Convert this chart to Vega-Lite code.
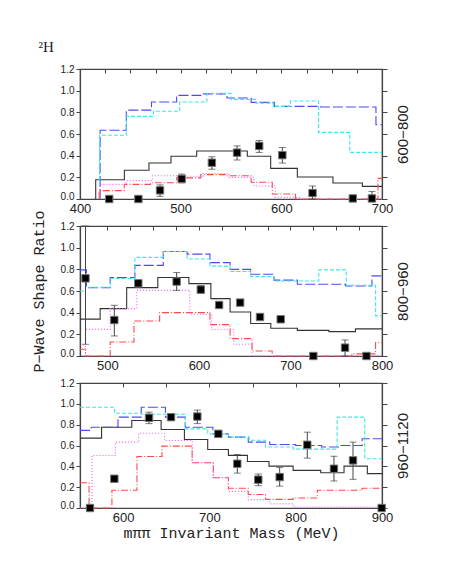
{
"$schema": "https://vega.github.io/schema/vega-lite/v6.json",
"background": "white",
"padding": {"left": 30, "top": 40, "right": 5, "bottom": 5},
"title": {"text": "²H", "anchor": "start", "frame": "bounds", "font": "Liberation Serif", "fontSize": 15, "fontWeight": "normal", "color": "#222", "dx": 8, "offset": 8},
"spacing": 27,
"bounds": "flush",
"config": {
  "view": {"stroke": "#444", "strokeWidth": 1.2},
  "axis": {"domainColor": "#444", "domainWidth": 1.2, "tickColor": "#444", "labelColor": "#222", "labelFont": "Liberation Sans", "titleFont": "Liberation Mono", "titleFontWeight": "normal", "titleColor": "#222", "grid": false},
  "line": {"strokeWidth": 1.1}
},
"datasets": {
  "h1": [
    {"s":"black","x":415.6,"y":0},{"s":"black","x":444.1,"y":0.178},{"s":"black","x":468.5,"y":0.265},{"s":"black","x":490.4,"y":0.332},{"s":"black","x":515.9,"y":0.394},{"s":"black","x":566.2,"y":0.443},{"s":"black","x":589.4,"y":0.394},{"s":"black","x":615.9,"y":0.283},{"s":"black","x":651.3,"y":0.203},{"s":"black","x":680.5,"y":0.148},{"s":"black","x":700,"y":0.117},
    {"s":"blue","x":420,"y":0},{"s":"blue","x":446,"y":0.634},{"s":"blue","x":471,"y":0.82},{"s":"blue","x":496,"y":0.895},{"s":"blue","x":520,"y":0.957},{"s":"blue","x":546,"y":0.97},{"s":"blue","x":570,"y":0.932},{"s":"blue","x":593,"y":0.892},{"s":"blue","x":639,"y":0.855},{"s":"blue","x":694,"y":0.849},{"s":"blue","x":700,"y":0.686},
    {"s":"cyan","x":419.5,"y":0},{"s":"cyan","x":446,"y":0.588},{"s":"cyan","x":473,"y":0.763},{"s":"cyan","x":499,"y":0.81},{"s":"cyan","x":526,"y":0.895},{"s":"cyan","x":550,"y":0.975},{"s":"cyan","x":575,"y":0.92},{"s":"cyan","x":592,"y":0.885},{"s":"cyan","x":609,"y":0.855},{"s":"cyan","x":637,"y":0.905},{"s":"cyan","x":668,"y":0.615},{"s":"cyan","x":700,"y":0.43},
    {"s":"red","x":419,"y":0},{"s":"red","x":444,"y":0.077},{"s":"red","x":470,"y":0.135},{"s":"red","x":496,"y":0.15},{"s":"red","x":520,"y":0.195},{"s":"red","x":546,"y":0.225},{"s":"red","x":570,"y":0.215},{"s":"red","x":591,"y":0.155},{"s":"red","x":614,"y":0.046},{"s":"red","x":696,"y":0},{"s":"red","x":700,"y":0.19},
    {"s":"magenta","x":420,"y":0},{"s":"magenta","x":446,"y":0.135},{"s":"magenta","x":472,"y":0.17},{"s":"magenta","x":497,"y":0.215},{"s":"magenta","x":522,"y":0.21},{"s":"magenta","x":548,"y":0.235},{"s":"magenta","x":573,"y":0.2},{"s":"magenta","x":594,"y":0.12},{"s":"magenta","x":618,"y":0.015},{"s":"magenta","x":700,"y":0}
  ],
  "h2": [
    {"s":"black","x":470,"y":0.34},{"s":"black","x":492,"y":0.34},{"s":"black","x":521,"y":0.437},{"s":"black","x":555,"y":0.631},{"s":"black","x":589,"y":0.724},{"s":"black","x":613,"y":0.668},{"s":"black","x":634,"y":0.53},{"s":"black","x":656.5,"y":0.406},{"s":"black","x":678.5,"y":0.3},{"s":"black","x":707.5,"y":0.256},{"s":"black","x":742,"y":0.237},{"s":"black","x":771,"y":0.225},{"s":"black","x":800,"y":0.25},
    {"s":"blue","x":470,"y":0.795},{"s":"blue","x":477,"y":0.795},{"s":"blue","x":503,"y":0.63},{"s":"blue","x":530,"y":0.724},{"s":"blue","x":561,"y":0.837},{"s":"blue","x":587,"y":0.964},{"s":"blue","x":612,"y":0.94},{"s":"blue","x":634,"y":0.862},{"s":"blue","x":656.5,"y":0.8},{"s":"blue","x":682,"y":0.754},{"s":"blue","x":707.5,"y":0.7},{"s":"blue","x":760,"y":0.662},{"s":"blue","x":789,"y":0.646},{"s":"blue","x":800,"y":0.74},
    {"s":"cyan","x":470,"y":0.6},{"s":"cyan","x":476,"y":0.6},{"s":"cyan","x":503,"y":0.635},{"s":"cyan","x":530,"y":0.715},{"s":"cyan","x":561,"y":0.91},{"s":"cyan","x":587,"y":0.965},{"s":"cyan","x":612,"y":0.895},{"s":"cyan","x":634,"y":0.83},{"s":"cyan","x":656.5,"y":0.78},{"s":"cyan","x":682,"y":0.733},{"s":"cyan","x":731,"y":0.693},{"s":"cyan","x":761,"y":0.795},{"s":"cyan","x":793,"y":0.652},{"s":"cyan","x":800,"y":0.37},
    {"s":"red","x":470,"y":0.062},{"s":"red","x":476,"y":0.062},{"s":"red","x":503,"y":0},{"s":"red","x":529,"y":0.129},{"s":"red","x":557,"y":0.323},{"s":"red","x":612,"y":0.4},{"s":"red","x":634,"y":0.29},{"s":"red","x":658,"y":0.16},{"s":"red","x":680,"y":0.046},{"s":"red","x":767,"y":0},{"s":"red","x":793,"y":0.02},{"s":"red","x":800,"y":0.124},
    {"s":"magenta","x":476,"y":0},{"s":"magenta","x":503,"y":0.246},{"s":"magenta","x":532,"y":0.437},{"s":"magenta","x":590,"y":0.606},{"s":"magenta","x":614,"y":0.385},{"s":"magenta","x":638,"y":0.244},{"s":"magenta","x":658,"y":0.108},{"s":"magenta","x":800,"y":0}
  ],
  "h3": [
    {"s":"black","x":550,"y":0.671},{"s":"black","x":575,"y":0.671},{"s":"black","x":610,"y":0.775},{"s":"black","x":644,"y":0.84},{"s":"black","x":671,"y":0.754},{"s":"black","x":698,"y":0.658},{"s":"black","x":722,"y":0.562},{"s":"black","x":744,"y":0.505},{"s":"black","x":769,"y":0.447},{"s":"black","x":797,"y":0.402},{"s":"black","x":829,"y":0.361},{"s":"black","x":856,"y":0.339},{"s":"black","x":883,"y":0.402},{"s":"black","x":900,"y":0.33},
    {"s":"blue","x":550,"y":0.745},{"s":"blue","x":563,"y":0.745},{"s":"blue","x":594,"y":0.775},{"s":"blue","x":621,"y":0.872},{"s":"blue","x":649,"y":0.967},{"s":"blue","x":672,"y":0.872},{"s":"blue","x":704,"y":0.775},{"s":"blue","x":722,"y":0.712},{"s":"blue","x":745,"y":0.68},{"s":"blue","x":770,"y":0.632},{"s":"blue","x":800,"y":0.61},{"s":"blue","x":830,"y":0.6},{"s":"blue","x":851,"y":0.585},{"s":"blue","x":877,"y":0.6},{"s":"blue","x":900,"y":0.665},
    {"s":"cyan","x":550,"y":0.967},{"s":"cyan","x":590,"y":0.967},{"s":"cyan","x":621,"y":0.91},{"s":"cyan","x":672,"y":0.9},{"s":"cyan","x":698,"y":0.76},{"s":"cyan","x":722,"y":0.71},{"s":"cyan","x":746,"y":0.68},{"s":"cyan","x":765,"y":0.65},{"s":"cyan","x":797,"y":0.585},{"s":"cyan","x":848,"y":0.565},{"s":"cyan","x":880,"y":0.872},{"s":"cyan","x":900,"y":0.473},
    {"s":"red","x":550,"y":0.243},{"s":"red","x":560.5,"y":0.243},{"s":"red","x":587,"y":0},{"s":"red","x":616,"y":0.17},{"s":"red","x":645,"y":0.495},{"s":"red","x":680,"y":0.594},{"s":"red","x":704.5,"y":0.435},{"s":"red","x":722,"y":0.29},{"s":"red","x":745,"y":0.19},{"s":"red","x":765,"y":0.13},{"s":"red","x":797,"y":0.083},{"s":"red","x":825,"y":0.096},{"s":"red","x":877,"y":0.17},{"s":"red","x":900,"y":0.19},
    {"s":"magenta","x":550,"y":0},{"s":"magenta","x":564,"y":0},{"s":"magenta","x":591,"y":0.504},{"s":"magenta","x":618,"y":0.632},{"s":"magenta","x":648,"y":0.718},{"s":"magenta","x":680,"y":0.648},{"s":"magenta","x":704.5,"y":0.435},{"s":"magenta","x":722,"y":0.29},{"s":"magenta","x":745,"y":0.16},{"s":"magenta","x":770,"y":0.08},{"s":"magenta","x":797,"y":0.04},{"s":"magenta","x":900,"y":0.01}
  ],
  "p1": [
    {"x":429,"y":0},{"x":458,"y":0},{"x":479.5,"y":0.08,"lo":0.025,"hi":0.13},{"x":501,"y":0.186,"lo":0.148,"hi":0.23},{"x":531,"y":0.335,"lo":0.275,"hi":0.39},{"x":556,"y":0.428,"lo":0.36,"hi":0.49},{"x":578,"y":0.49,"lo":0.43,"hi":0.54},{"x":601,"y":0.405,"lo":0.332,"hi":0.475},{"x":631,"y":0.055,"lo":0,"hi":0.12},{"x":671,"y":0.005},{"x":690,"y":0.005,"lo":0,"hi":0.07}
  ],
  "p2": [
    {"x":476,"y":0.717,"lo":0.108,"hi":1.2},{"x":507.5,"y":0.332,"lo":0.185,"hi":0.468},{"x":533.7,"y":0.671},{"x":575.6,"y":0.687,"lo":0.606,"hi":0.77},{"x":602,"y":0.613,"lo":0.58,"hi":0.65},{"x":622,"y":0.471},{"x":645,"y":0.493},{"x":666.7,"y":0.36},{"x":689.3,"y":0.339,"lo":0.31,"hi":0.37},{"x":725,"y":0},{"x":759.6,"y":0.077,"lo":0,"hi":0.148},{"x":783,"y":0}
  ],
  "p3": [
    {"x":561.6,"y":0},{"x":589.8,"y":0.281},{"x":630,"y":0.866,"lo":0.81,"hi":0.92},{"x":655.5,"y":0.872},{"x":686,"y":0.878,"lo":0.81,"hi":0.94},{"x":710.3,"y":0.712,"lo":0.68,"hi":0.745},{"x":732.3,"y":0.425,"lo":0.335,"hi":0.514},{"x":756.6,"y":0.272,"lo":0.214,"hi":0.326},{"x":781.4,"y":0.297,"lo":0.21,"hi":0.39},{"x":813.4,"y":0.607,"lo":0.479,"hi":0.728},{"x":844.3,"y":0.377,"lo":0.259,"hi":0.498},{"x":866.4,"y":0.457,"lo":0.275,"hi":0.632},{"x":899.6,"y":0}
  ]
},
"vconcat": [
  {
    "width": 302, "height": 130,
    "resolve": {"axis": {"x": "independent", "y": "independent"}},
    "layer": [
      {"data": {"name": "h1"}, "mark": {"type": "line", "interpolate": "step-before"},
       "encoding": {
         "x": {"field": "x", "type": "quantitative", "scale": {"domain": [400, 700], "nice": false, "zero": false},
               "axis": {"orient": "bottom", "values": [400, 500, 600, 700], "title": null, "tickSize": 0, "labelPadding": 3, "labelFontSize": 13, "labelFlush": false, "labelOverlap": false}},
         "y": {"field": "y", "type": "quantitative", "scale": {"domain": [0, 1.2], "nice": false},
               "axis": {"orient": "left", "values": [0, 0.2, 0.4, 0.6, 0.8, 1.0, 1.2], "format": ".1f", "title": null, "tickSize": 4, "labelPadding": 2, "labelFontSize": 10, "labelOffset": {"condition": {"test": "datum.value === 0", "value": -3}, "value": 0}}},
         "color": {"field": "s", "type": "nominal", "legend": null, "scale": {"domain": ["black", "blue", "cyan", "red", "magenta"], "range": ["#333333", "#4b4bf5", "#3ee6e6", "#ff4a4a", "#f55ef5"]}},
         "strokeDash": {"field": "s", "type": "nominal", "legend": null, "scale": {"domain": ["black", "blue", "cyan", "red", "magenta"], "range": [[1, 0], [10, 3], [4, 2], [7, 2, 1, 2], [1, 2]]}}
       }},
      {"data": {"name": "p1"}, "transform": [{"filter": "datum.lo != null"}],
       "mark": {"type": "errorbar", "ticks": {"size": 7, "color": "#444"}, "color": "#444"},
       "encoding": {"x": {"field": "x", "type": "quantitative", "axis": null}, "y": {"field": "lo", "type": "quantitative", "axis": null}, "y2": {"field": "hi"}}},
      {"data": {"name": "p1"},
       "mark": {"type": "square", "size": 55, "color": "#000", "filled": true, "opacity": 1, "stroke": "#777", "strokeWidth": 1},
       "encoding": {
         "x": {"field": "x", "type": "quantitative", "axis": {"orient": "top", "labels": false, "domain": false, "values": [400,425,450,475,500,525,550,575,600,625,650,675,700], "tickSize": -4, "title": null}},
         "y": {"field": "y", "type": "quantitative", "axis": {"orient": "right", "labels": false, "values": [0, 0.2, 0.4, 0.6, 0.8, 1.0, 1.2], "tickSize": 5, "title": "600−800", "titleAngle": 270, "titleBaseline": "top", "titleFont": "Liberation Sans", "titleFontSize": 15, "titlePadding": 8}}
       }}
    ]
  },
  {
    "width": 302, "height": 130,
    "resolve": {"axis": {"x": "independent", "y": "independent"}},
    "layer": [
      {"data": {"name": "h2"}, "mark": {"type": "line", "interpolate": "step-before"},
       "encoding": {
         "x": {"field": "x", "type": "quantitative", "scale": {"domain": [470, 800], "nice": false, "zero": false},
               "axis": {"orient": "bottom", "values": [500, 600, 700, 800], "title": null, "tickSize": 0, "labelPadding": 3, "labelFontSize": 13, "labelFlush": false, "labelOverlap": false}},
         "y": {"field": "y", "type": "quantitative", "scale": {"domain": [0, 1.2], "nice": false},
               "axis": {"orient": "left", "values": [0, 0.2, 0.4, 0.6, 0.8, 1.0, 1.2], "format": ".1f", "title": "P−Wave Shape Ratio", "titleFontSize": 15, "titlePadding": 14, "tickSize": 4, "labelPadding": 2, "labelFontSize": 10, "labelOffset": {"condition": {"test": "datum.value === 0", "value": -3}, "value": 0}}},
         "color": {"field": "s", "type": "nominal", "legend": null, "scale": {"domain": ["black", "blue", "cyan", "red", "magenta"], "range": ["#333333", "#4b4bf5", "#3ee6e6", "#ff4a4a", "#f55ef5"]}},
         "strokeDash": {"field": "s", "type": "nominal", "legend": null, "scale": {"domain": ["black", "blue", "cyan", "red", "magenta"], "range": [[1, 0], [10, 3], [4, 2], [7, 2, 1, 2], [1, 2]]}}
       }},
      {"data": {"name": "p2"}, "transform": [{"filter": "datum.lo != null"}],
       "mark": {"type": "errorbar", "ticks": {"size": 7, "color": "#444"}, "color": "#444"},
       "encoding": {"x": {"field": "x", "type": "quantitative", "axis": null}, "y": {"field": "lo", "type": "quantitative", "axis": null}, "y2": {"field": "hi"}}},
      {"data": {"name": "p2"},
       "mark": {"type": "square", "size": 55, "color": "#000", "filled": true, "opacity": 1, "stroke": "#777", "strokeWidth": 1},
       "encoding": {
         "x": {"field": "x", "type": "quantitative", "axis": {"orient": "top", "labels": false, "domain": false, "values": [475,500,525,550,575,600,625,650,675,700,725,750,775,800], "tickSize": -4, "title": null}},
         "y": {"field": "y", "type": "quantitative", "axis": {"orient": "right", "labels": false, "values": [0, 0.2, 0.4, 0.6, 0.8, 1.0, 1.2], "tickSize": 5, "title": "800−960", "titleAngle": 270, "titleBaseline": "top", "titleFont": "Liberation Sans", "titleFontSize": 15, "titlePadding": 8}}
       }}
    ]
  },
  {
    "width": 302, "height": 125,
    "resolve": {"axis": {"x": "independent", "y": "independent"}},
    "layer": [
      {"data": {"name": "h3"}, "mark": {"type": "line", "interpolate": "step-before"},
       "encoding": {
         "x": {"field": "x", "type": "quantitative", "scale": {"domain": [550, 900], "nice": false, "zero": false},
               "axis": {"orient": "bottom", "values": [600, 700, 800, 900], "title": "mππ Invariant Mass (MeV)", "titleFontSize": 15, "titlePadding": 1, "tickSize": 0, "labelPadding": 3, "labelFontSize": 13, "labelFlush": false, "labelOverlap": false}},
         "y": {"field": "y", "type": "quantitative", "scale": {"domain": [0, 1.2], "nice": false},
               "axis": {"orient": "left", "values": [0, 0.2, 0.4, 0.6, 0.8, 1.0, 1.2], "format": ".1f", "title": null, "tickSize": 4, "labelPadding": 2, "labelFontSize": 10, "labelOffset": {"condition": {"test": "datum.value === 0", "value": -3}, "value": 0}}},
         "color": {"field": "s", "type": "nominal", "legend": null, "scale": {"domain": ["black", "blue", "cyan", "red", "magenta"], "range": ["#333333", "#4b4bf5", "#3ee6e6", "#ff4a4a", "#f55ef5"]}},
         "strokeDash": {"field": "s", "type": "nominal", "legend": null, "scale": {"domain": ["black", "blue", "cyan", "red", "magenta"], "range": [[1, 0], [10, 3], [4, 2], [7, 2, 1, 2], [1, 2]]}}
       }},
      {"data": {"name": "p3"}, "transform": [{"filter": "datum.lo != null"}],
       "mark": {"type": "errorbar", "ticks": {"size": 7, "color": "#444"}, "color": "#444"},
       "encoding": {"x": {"field": "x", "type": "quantitative", "axis": null}, "y": {"field": "lo", "type": "quantitative", "axis": null}, "y2": {"field": "hi"}}},
      {"data": {"name": "p3"},
       "mark": {"type": "square", "size": 55, "color": "#000", "filled": true, "opacity": 1, "stroke": "#777", "strokeWidth": 1},
       "encoding": {
         "x": {"field": "x", "type": "quantitative", "axis": {"orient": "top", "labels": false, "domain": false, "values": [550,600,650,700,750,800,850,900], "tickSize": -4, "title": null}},
         "y": {"field": "y", "type": "quantitative", "axis": {"orient": "right", "labels": false, "values": [0, 0.2, 0.4, 0.6, 0.8, 1.0, 1.2], "tickSize": 5, "title": "960−1120", "titleAngle": 270, "titleBaseline": "top", "titleFont": "Liberation Sans", "titleFontSize": 15, "titlePadding": 8}}
       }}
    ]
  }
]
}
